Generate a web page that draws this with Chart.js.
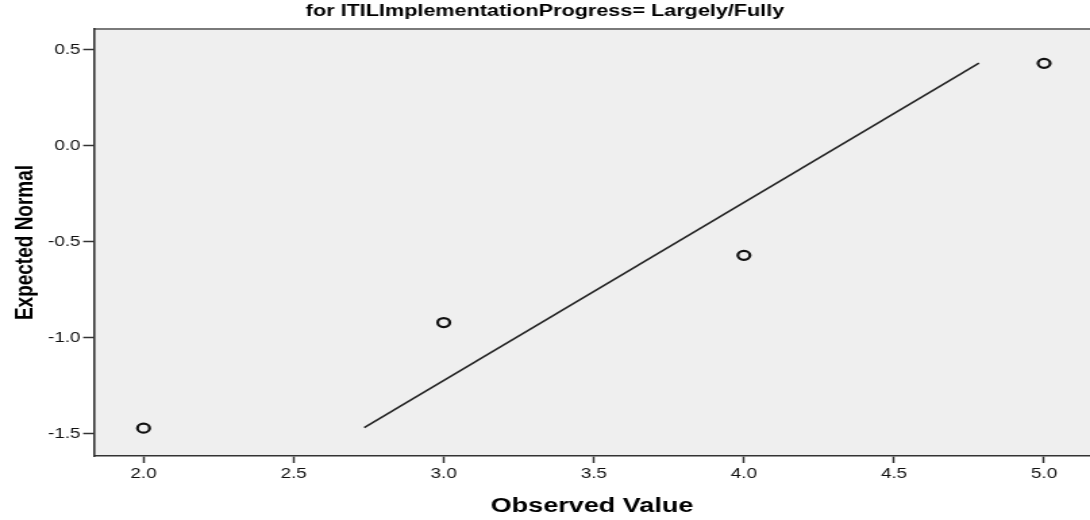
<!DOCTYPE html>
<html>
<head>
<meta charset="utf-8">
<script src="https://cdn.jsdelivr.net/npm/chart.js@4.4.1/dist/chart.umd.min.js"></script>
<style>
  html, body { margin: 0; padding: 0; background: #fff; overflow: hidden; }
  /* the source picture is stretched sideways, so draw narrow and stretch */
  #qq { display: block; width: 807px; height: 520px; transform: scaleX(1.3507); transform-origin: 0 0; }
</style>
</head>
<body>
<canvas id="qq" width="807" height="520"></canvas>
<script>
// Normal Q-Q plot
const observed = [2.0, 3.0, 4.0, 5.0];
const expectedNormal = [-1.47, -0.92, -0.57, 0.43];
const refLineX = [2.735, 4.783];
const refLineY = [-1.467, 0.431];

const titleText = "for ITILImplementationProgress= Largely/Fully";
const xTitle = "Observed Value";
const yTitle = "Expected Normal";

const plotBg = {
  id: "plotBg",
  beforeDraw(chart) {
    const { ctx, chartArea: a } = chart;
    ctx.save();
    ctx.fillStyle = "#efefef";
    ctx.fillRect(a.left, a.top, a.right - a.left, a.bottom - a.top);
    ctx.strokeStyle = "#7a7a7a";
    ctx.lineWidth = 2;
    ctx.beginPath();
    ctx.moveTo(a.left, a.top);
    ctx.lineTo(a.right, a.top);
    ctx.stroke();
    ctx.restore();
  }
};

const font = "'Liberation Sans', Arial, sans-serif";

new Chart(document.getElementById("qq").getContext("2d"), {
  type: "scatter",
  data: {
    datasets: [
      {
        type: "line",
        data: refLineX.map((x, i) => ({ x, y: refLineY[i] })),
        borderColor: "#222",
        borderWidth: 1.6,
        pointRadius: 0,
        fill: false
      },
      {
        data: observed.map((x, i) => ({ x, y: expectedNormal[i] })),
        pointRadius: 4.5,
        pointBorderWidth: 2.2,
        pointBorderColor: "#111",
        pointBackgroundColor: "rgba(0,0,0,0)"
      }
    ]
  },
  options: {
    responsive: false,
    animation: false,
    devicePixelRatio: 1,
    layout: { padding: 0, autoPadding: false },
    plugins: {
      legend: { display: false },
      tooltip: { enabled: false },
      title: {
        display: true,
        text: titleText,
        color: "#000",
        font: { family: font, size: 16, weight: "bold" },
        padding: { top: 2.4, bottom: 7.4 }
      }
    },
    scales: {
      x: {
        type: "linear",
        min: 1.835,
        max: 5.153,
        afterFit: s => { s.height = 64; s.paddingRight = 0; s.paddingLeft = 0; },
        border: { color: "#333", width: 1.6 },
        grid: { drawOnChartArea: false, tickLength: 7, tickColor: "#333", tickWidth: 1.5 },
        ticks: {
          stepSize: 0.5,
          includeBounds: false,
          padding: 3,
          color: "#111",
          font: { family: font, size: 14 },
          callback: v => v.toFixed(1)
        },
        title: {
          display: true,
          text: xTitle,
          color: "#000",
          font: { family: font, size: 20, weight: "bold" },
          padding: { top: 0, bottom: 2 }
        }
      },
      y: {
        type: "linear",
        min: -1.615,
        max: 0.609,
        afterFit: s => { s.width = 69.6; },
        border: { color: "#333", width: 1.6 },
        grid: { drawOnChartArea: false, tickLength: 8, tickColor: "#333", tickWidth: 1.5 },
        ticks: {
          stepSize: 0.5,
          includeBounds: false,
          padding: 2,
          color: "#111",
          font: { family: font, size: 14 },
          callback: v => v.toFixed(1)
        },
        title: {
          display: true,
          text: yTitle,
          color: "#000",
          font: { family: font, size: 19, weight: "bold" },
          padding: { top: 7, bottom: 0 }
        }
      }
    }
  },
  plugins: [plotBg]
});
</script>
</body>
</html>
